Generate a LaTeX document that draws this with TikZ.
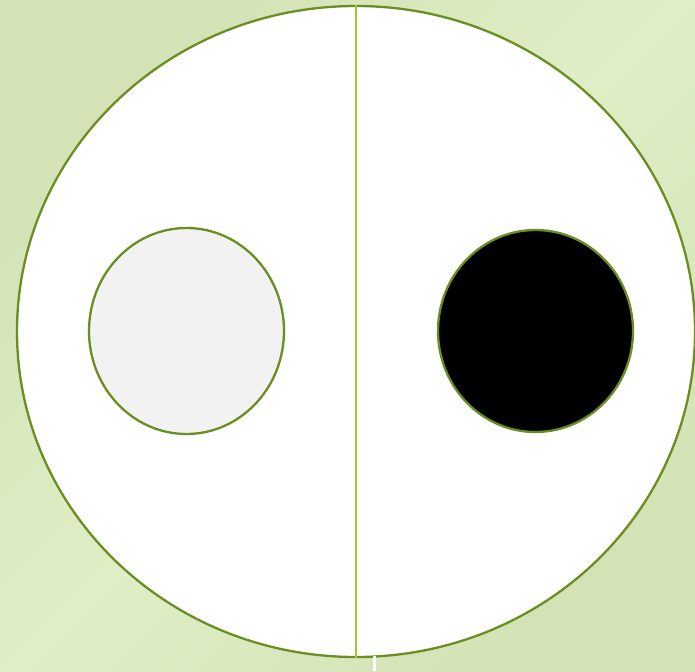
\documentclass[tikz,border=0pt]{standalone}
\usetikzlibrary{shapes.geometric}
\definecolor{bgdark}{HTML}{D3E3B6}
\definecolor{bglight}{HTML}{DFEEC5}
\definecolor{rim}{HTML}{6B8E23}
\definecolor{divider}{HTML}{9ACD32}
\definecolor{paleface}{HTML}{F2F2F2}
\tikzset{
  disc/.style={ellipse, draw=rim, line width=2.3pt, inner sep=0pt},
}
\begin{document}
\begin{tikzpicture}[x=1pt,y=-1pt]
\useasboundingbox (0,0) rectangle (695,671);
\shade[top color=bgdark, bottom color=bgdark, middle color=bglight, shading angle=45] (0,0) rectangle (695,671);
\node[disc, fill=white, minimum width=678pt, minimum height=651pt] (big) at (356,331.5) {};
\draw[divider, line width=1.3pt] (big.north) -- (big.south);
\coordinate (tickTop) at (374,656);
\coordinate (tickBot) at (374,671);
\draw[white, line width=3pt] (tickTop) -- (tickBot);
\node[disc, fill=paleface, minimum width=195pt, minimum height=206pt] (left) at (186.5,331) {};
\node[disc, fill=black, minimum width=195pt, minimum height=202pt] (right) at (535.5,331) {};
\end{tikzpicture}
\end{document}
